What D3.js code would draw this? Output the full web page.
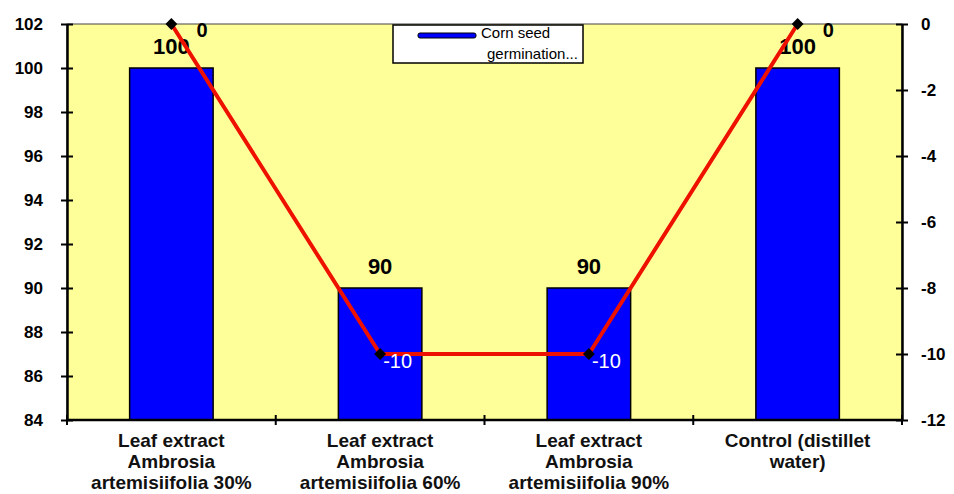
<!DOCTYPE html>
<html>
<head>
<meta charset="utf-8">
<script src="https://cdn.jsdelivr.net/npm/d3@7"></script>
<style>
  body { margin: 0; background: white; }
  svg text { font-family: "Liberation Sans", Arial, sans-serif; font-weight: bold; }
</style>
</head>
<body>
<div id="chart"></div>
<script>
// chart data
var categories = [
  ["Leaf extract", "Ambrosia", "artemisiifolia 30%"],
  ["Leaf extract", "Ambrosia", "artemisiifolia 60%"],
  ["Leaf extract", "Ambrosia", "artemisiifolia 90%"],
  ["Control (distillet", "water)"]
]
var germination = [100, 90, 90, 100]
var difference = [0, -10, -10, 0]
var leftTicks = [84, 86, 88, 90, 92, 94, 96, 98, 100, 102]
var rightTicks = [-12, -10, -8, -6, -4, -2, 0]
var legendLabel = ["Corn seed", "germination..."]

var width = 954, height = 494
var pLeft = 67, pRight = 902, pTop = 24, pBottom = 420

var svg = d3.select('#chart').append('svg')
  .attr('width', width)
  .attr('height', height)

var idx = d3.range(categories.length)

var xMap = d3.scaleBand()
  .domain(idx)
  .range([pLeft, pRight])
  .padding(0)

var yMap = d3.scaleLinear()
  .domain([84, 102])
  .range([pBottom, pTop])

var y2Map = d3.scaleLinear()
  .domain([-12, 0])
  .range([pBottom, pTop])

var cx = i => xMap(i) + xMap.bandwidth() / 2

// plot background
svg.append('rect')
  .attr('x', pLeft)
  .attr('y', pTop)
  .attr('width', pRight - pLeft)
  .attr('height', pBottom - pTop)
  .style('fill', '#ffff99')
  .style('stroke', '#444')
  .style('stroke-width', 1)

// bars
var barW = xMap.bandwidth() * 0.4
svg.selectAll('.bar').data(germination).enter().append('rect')
  .attr('x', (d, i) => cx(i) - barW / 2)
  .attr('y', d => yMap(d))
  .attr('width', barW)
  .attr('height', d => pBottom - yMap(d))
  .style('fill', '#0000ff')
  .style('stroke', 'black')
  .style('stroke-width', 1.5)

svg.selectAll('.barlab').data(germination).enter().append('text')
  .attr('x', (d, i) => cx(i))
  .attr('y', d => yMap(d) - 14)
  .style('text-anchor', 'middle')
  .style('font-size', '22px')
  .style('fill', 'black')
  .text(d => d)

// axes
var yAxis = d3.axisLeft(yMap)
  .tickValues(leftTicks)
  .tickSize(0)
  .tickPadding(24)

var gY = svg.append('g')
  .attr('transform', 'translate(' + [pLeft, 0] + ')')
  .call(yAxis)
gY.select('.domain').style('stroke', 'black').style('stroke-width', 2.5)
gY.selectAll('.tick line').attr('x1', -6).attr('x2', 6).style('stroke', 'black').style('stroke-width', 2)
gY.selectAll('.tick text').style('font-size', '17px').style('fill', 'black')

var y2Axis = d3.axisRight(y2Map)
  .tickValues(rightTicks)
  .tickFormat(d => String(d))
  .tickSize(0)
  .tickPadding(19)

var gY2 = svg.append('g')
  .attr('transform', 'translate(' + [pRight, 0] + ')')
  .call(y2Axis)
gY2.select('.domain').style('stroke', 'black').style('stroke-width', 2.5)
gY2.selectAll('.tick line').attr('x1', -6).attr('x2', 6).style('stroke', 'black').style('stroke-width', 2)
gY2.selectAll('.tick text').style('font-size', '17px').style('fill', 'black')

// x axis with ticks between categories
var gX = svg.append('g')
gX.append('line')
  .attr('x1', pLeft).attr('x2', pRight)
  .attr('y1', pBottom).attr('y2', pBottom)
  .style('stroke', 'black')
  .style('stroke-width', 2.5)
gX.selectAll('.xt').data(d3.range(categories.length + 1)).enter().append('line')
  .attr('x1', d => pLeft + d * xMap.bandwidth())
  .attr('x2', d => pLeft + d * xMap.bandwidth())
  .attr('y1', pBottom - 5)
  .attr('y2', pBottom + 5)
  .style('stroke', 'black')
  .style('stroke-width', 2)

var gXL = gX.selectAll('.xl').data(categories).enter().append('text')
  .attr('x', (d, i) => cx(i))
  .attr('y', pBottom + 27)
  .style('text-anchor', 'middle')
  .style('font-size', '19px')
  .style('fill', '#111')
gXL.selectAll('tspan').data(d => d).enter().append('tspan')
  .attr('x', function() { return this.parentNode.getAttribute('x') })
  .attr('dy', (d, i) => i === 0 ? 0 : 21)
  .text(d => d)

// line series on secondary axis
var line = d3.line()
  .x((d, i) => cx(i))
  .y(d => y2Map(d))

svg.append('path')
  .datum(difference)
  .style('fill', 'none')
  .style('stroke', '#ee1100')
  .style('stroke-width', 4)
  .style('stroke-linejoin', 'round')
  .attr('d', line)

svg.selectAll('.mk').data(difference).enter().append('path')
  .attr('d', d3.symbol(d3.symbolDiamond2, 90))
  .attr('transform', (d, i) => 'translate(' + [cx(i), y2Map(d)] + ')')
  .style('fill', 'black')

svg.selectAll('.ml').data(difference).enter().append('text')
  .attr('x', (d, i) => cx(i) + (d === 0 ? 25 : 3))
  .attr('y', d => y2Map(d) + (d === 0 ? 13 : 14))
  .style('text-anchor', 'start')
  .style('font-size', '20px')
  .style('font-weight', d => d === 0 ? 'bold' : 'normal')
  .style('fill', d => d === 0 ? 'black' : 'white')
  .text(d => d)

// legend
var gL = svg.append('g')
gL.append('rect')
  .attr('x', 393)
  .attr('y', 25)
  .attr('width', 190)
  .attr('height', 38)
  .style('fill', 'white')
  .style('stroke', 'black')
  .style('stroke-width', 1.5)
gL.append('rect')
  .attr('x', 418)
  .attr('y', 33)
  .attr('width', 58)
  .attr('height', 5)
  .attr('rx', 2)
  .style('fill', '#0000ff')
  .style('stroke', 'black')
  .style('stroke-width', 1)
gL.selectAll('text').data(legendLabel).enter().append('text')
  .attr('x', (d, i) => 481 + i * 6)
  .attr('y', (d, i) => 38 + i * 21)
  .style('font-size', '15px')
  .style('font-weight', 'normal')
  .style('fill', 'black')
  .text(d => d)
</script>
</body>
</html>
